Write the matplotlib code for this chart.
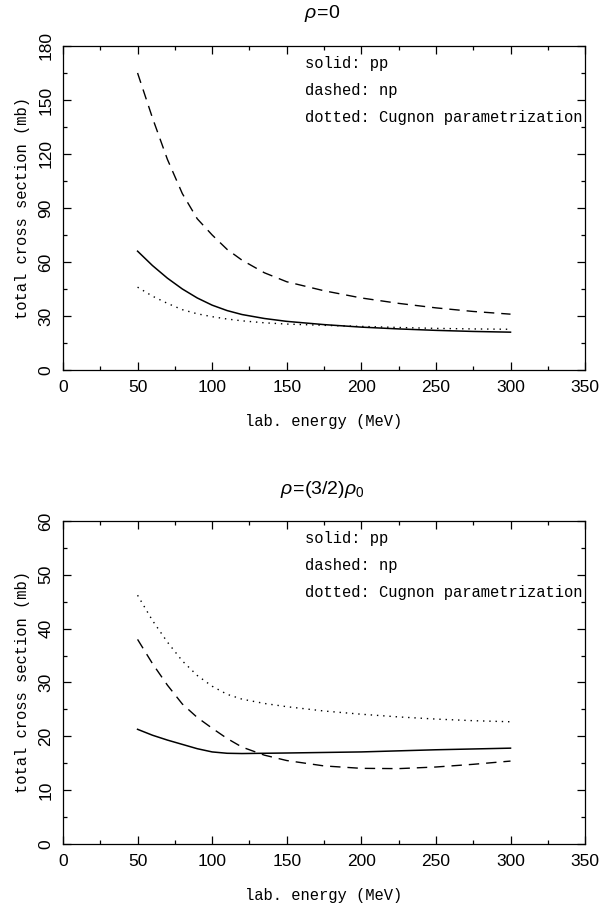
import matplotlib.pyplot as plt
from matplotlib.ticker import MultipleLocator

plt.rcParams['mathtext.fontset'] = 'custom'
plt.rcParams['mathtext.rm'] = 'Liberation Sans'
plt.rcParams['mathtext.it'] = 'Liberation Sans:italic'

# lab energy grid (MeV)
energy = [50, 60, 70, 80, 90, 100, 110, 120, 135, 150, 175, 200, 225, 250, 275, 300]

# rho = 0
pp_0 = [66, 58, 51, 45, 40, 36, 33, 30.8, 28.6, 27, 25.2, 23.8, 22.8, 22.0, 21.4, 21.0]
np_0 = [165, 140, 117, 98, 84, 75, 67, 61, 54, 49, 44, 40, 37, 34.5, 32.5, 31]
cug_0 = [46, 41, 37, 33.5, 31.2, 29.6, 28.3, 27.3, 26.2, 25.5, 24.8, 24.2, 23.6, 23.1, 22.8, 22.6]

# rho = (3/2) rho_0
pp_1 = [21.3, 20.2, 19.3, 18.5, 17.7, 17.1, 16.85, 16.8, 16.85, 16.9, 17.0, 17.1, 17.3, 17.5, 17.65, 17.8]
np_1 = [38, 33.5, 29.5, 26, 23.5, 21.5, 19.6, 18, 16.5, 15.5, 14.5, 14.05, 14.0, 14.3, 14.8, 15.4]
cug_1 = [46.2, 41.5, 37.5, 34, 31.3, 29.3, 27.8, 26.9, 26.1, 25.5, 24.7, 24.1, 23.6, 23.2, 22.9, 22.7]

titles = [r'$\rho\!=\!0$', r'$\rho\!=\!(3/2)\rho_0$']
legend_lines = ['solid: pp', 'dashed: np', 'dotted: Cugnon parametrization']

mono = 'Liberation Mono'
sans = 'Liberation Sans'

fig = plt.figure(figsize=(6.15, 9.05), dpi=100)
ax1 = fig.add_axes([0.1024, 0.5912, 0.849, 0.358])
ax2 = fig.add_axes([0.1024, 0.0674, 0.849, 0.357])


def style(ax, ymax, ymaj, ymin):
    ax.set_xlim(0, 350)
    ax.set_ylim(0, ymax)
    ax.xaxis.set_major_locator(MultipleLocator(50))
    ax.xaxis.set_minor_locator(MultipleLocator(25))
    ax.yaxis.set_major_locator(MultipleLocator(ymaj))
    ax.yaxis.set_minor_locator(MultipleLocator(ymin))
    ax.tick_params(which='both', direction='in', top=True, right=True, width=0.9)
    ax.tick_params(which='major', length=6)
    ax.tick_params(which='minor', length=3)
    ax.tick_params(axis='x', pad=7)
    ax.tick_params(axis='y', pad=7)
    for lab in ax.get_xticklabels():
        lab.set_fontfamily(sans)
        lab.set_fontsize(12.5)
    for lab in ax.get_yticklabels():
        lab.set_fontfamily(sans)
        lab.set_fontsize(12.5)
        lab.set_rotation(90)
        lab.set_va('center')
    for sp in ax.spines.values():
        sp.set_linewidth(0.9)
    ax.set_xlabel('lab. energy (MeV)', fontfamily=mono, fontsize=11.2, labelpad=14)
    ax.set_ylabel('total cross section (mb)', fontfamily=mono, fontsize=11.2, labelpad=6)
    for i, txt in enumerate(legend_lines):
        ax.text(0.464, 0.947 - i * 0.084, txt, transform=ax.transAxes,
                fontfamily=mono, fontsize=11.2, va='center', ha='left')


for ax, pp, npv, cug in [(ax1, pp_0, np_0, cug_0), (ax2, pp_1, np_1, cug_1)]:
    ax.plot(energy, pp, color='black', lw=1.1)
    ax.plot(energy, npv, color='black', lw=1.0, dashes=(7.5, 5))
    ax.plot(energy, cug, color='black', lw=1.0, dashes=(1, 3.5))

style(ax1, 180, 30, 15)
style(ax2, 60, 10, 5)

fig.text(0.524, 1 - 13 / 905, titles[0], ha='center', va='center', fontsize=14)
fig.text(0.524, 1 - 489 / 905, titles[1], ha='center', va='center', fontsize=14)

fig.savefig('out.png', dpi=100)
